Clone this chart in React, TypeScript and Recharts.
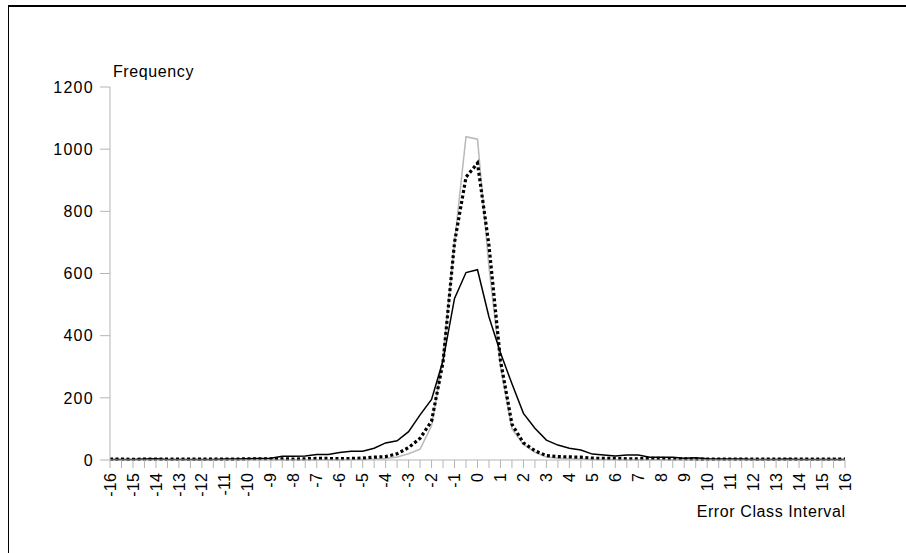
import React from "react";
import { LineChart, Line, XAxis, YAxis } from "recharts";

// error class interval (step 0.5)
const intervals = [
  -16, -15.5, -15, -14.5, -14, -13.5, -13, -12.5, -12, -11.5, -11, -10.5,
  -10, -9.5, -9, -8.5, -8, -7.5, -7, -6.5, -6, -5.5, -5, -4.5, -4, -3.5, -3, -2.5, -2, -1.5, -1, -0.5,
  0,
  0.5, 1, 1.5, 2, 2.5, 3, 3.5, 4, 4.5, 5, 5.5, 6, 6.5, 7, 7.5, 8, 8.5, 9, 9.5, 10, 10.5, 11, 11.5, 12,
  12.5, 13, 13.5, 14, 14.5, 15, 15.5, 16,
];

const grayFreq = [
  1, 1, 1, 1, 1, 1, 1, 1, 1, 1, 1, 1,
  1, 1, 1, 1, 1, 1, 1, 1, 1, 2, 2, 3, 5, 10, 20, 35, 110, 330, 700, 1040,
  1032,
  620, 300, 100, 50, 25, 10, 6, 4, 3, 2, 2, 2, 1, 1, 1, 1, 1, 1, 1, 1, 1, 1, 1, 1, 1, 1, 1, 1, 1, 1, 1, 1,
];

const solidFreq = [
  2, 2, 2, 3, 4, 2, 2, 2, 2, 2, 3, 3,
  4, 5, 6, 12, 12, 13, 18, 18, 24, 28, 28, 38, 55, 62, 91, 145, 195, 320, 520, 603,
  612,
  460, 345, 245, 150, 102, 64, 48, 38, 32, 19, 16, 13, 16, 16, 9, 9, 9, 6, 7, 4, 3, 3, 3, 2, 2, 2, 3, 2, 2, 2, 2, 2,
];

const dottedFreq = [
  3, 3, 2, 3, 3, 3, 3, 3, 3, 3, 3, 3,
  4, 4, 4, 4, 3, 4, 5, 5, 4, 5, 6, 9, 11, 20, 40, 70, 125, 315, 700, 910,
  955,
  690, 320, 115, 55, 30, 14, 11, 10, 9, 6, 5, 5, 4, 4, 5, 5, 4, 4, 3, 3, 3, 3, 3, 3, 3, 3, 3, 3, 3, 3, 3, 3,
];

const yTicks = [0, 200, 400, 600, 800, 1000, 1200];

const data = intervals.map((x, i) => ({
  x,
  gray: grayFreq[i],
  solid: solidFreq[i],
  dotted: dottedFreq[i],
}));

const FONT = "'Liberation Sans', Arial, sans-serif";
const AXIS = "#b5b5b5";
const titleStyle = { fontFamily: FONT, fontSize: 16, letterSpacing: 0.6, fill: "#000" };
const yTickStyle = { fontFamily: FONT, fontSize: 16, letterSpacing: 1.3, fill: "#000" };
const xTickStyle = { fontFamily: FONT, fontSize: 16, letterSpacing: 0.2, fill: "#000" };

const XTick = (props: any) => {
  const { x, y, payload } = props;
  if (!Number.isInteger(payload.value)) return null;
  return (
    <g transform={`translate(${x},${y + 3})`}>
      <text x={0} y={0} dy="0.35em" textAnchor="end" transform="rotate(-90)" style={xTickStyle}>
        {payload.value}
      </text>
    </g>
  );
};

const App: React.FC = () => {
  return (
    <div style={{ position: "absolute", left: 0, top: 0, width: 906, height: 553, background: "#fff", overflow: "hidden" }}>
      <div
        style={{
          position: "absolute",
          left: 8,
          top: 5,
          width: 1000,
          height: 700,
          borderLeft: "1px solid #000",
          borderTop: "2px solid #000",
        }}
      />
      <div style={{ position: "absolute", left: 0, top: 0 }}>
        <LineChart width={906} height={553} data={data} margin={{ top: 87, right: 61, left: 50, bottom: 33 }}>
          <XAxis
            dataKey="x"
            interval={0}
            height={60}
            stroke={AXIS}
            tickSize={8}
            tickLine={{ stroke: AXIS }}
            axisLine={{ stroke: AXIS }}
            tick={<XTick />}
          />
          <XAxis xAxisId="top" dataKey="x" orientation="top" height={0} tick={false} tickLine={false} axisLine={{ stroke: AXIS }} />
          <YAxis
            domain={[0, 1200]}
            ticks={yTicks}
            width={60}
            tickSize={10}
            tickMargin={6}
            tickLine={{ stroke: AXIS }}
            axisLine={{ stroke: AXIS }}
            tick={yTickStyle}
          />
          <YAxis yAxisId="right" orientation="right" width={0} domain={[0, 1200]} tick={false} tickLine={false} axisLine={{ stroke: AXIS }} />
          <Line dataKey="gray" stroke="#b8b8b8" strokeWidth={1.5} dot={false} isAnimationActive={false} />
          <Line dataKey="solid" stroke="#000" strokeWidth={1.5} dot={false} isAnimationActive={false} />
          <Line dataKey="dotted" stroke="#000" strokeWidth={3.2} strokeDasharray="3 2.5" dot={false} isAnimationActive={false} />
        </LineChart>
      </div>
      <svg width={906} height={553} style={{ position: "absolute", left: 0, top: 0, pointerEvents: "none" }}>
        <text x={113} y={77} style={titleStyle}>Frequency</text>
        <text x={845.6} y={517} textAnchor="end" style={titleStyle}>Error Class Interval</text>
      </svg>
    </div>
  );
};

export default App;
